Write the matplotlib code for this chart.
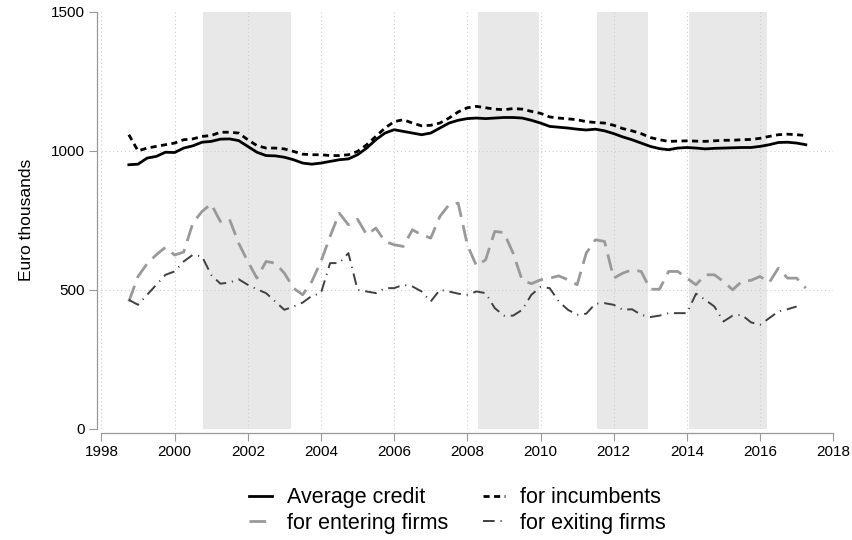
import numpy as np
import matplotlib
matplotlib.use("Agg")
import matplotlib.pyplot as plt

plt.rcParams['font.family'] = ['Liberation Sans', 'DejaVu Sans']

# quarterly, 1998q4 .. 2017q2
start_year = 1998.75

avg_credit = [950, 952, 974, 980, 995, 994, 1010, 1018, 1031, 1034, 1042, 1043, 1037, 1016, 995,
              983, 982, 977, 968, 956, 952, 956, 962, 968, 971, 986, 1010, 1040, 1064, 1076,
              1070, 1064, 1058, 1064, 1082, 1100, 1110, 1116, 1118, 1116, 1118, 1120, 1120, 1118, 1110,
              1100, 1088, 1085, 1082, 1078, 1075, 1078, 1072, 1062, 1050, 1040, 1028, 1016, 1008, 1004,
              1010, 1012, 1010, 1007, 1009, 1010, 1011, 1012, 1012, 1016, 1022, 1030, 1031, 1028, 1022]

incumbents = [1058, 1000, 1010, 1016, 1022, 1028, 1040, 1043, 1052, 1055, 1067, 1067, 1064, 1040, 1019,
              1010, 1010, 1007, 998, 988, 986, 986, 983, 983, 986, 998, 1022, 1052, 1082, 1105,
              1112, 1100, 1090, 1092, 1100, 1118, 1140, 1155, 1160, 1155, 1150, 1148, 1152, 1150, 1142,
              1135, 1122, 1118, 1115, 1112, 1105, 1102, 1100, 1092, 1080, 1072, 1062, 1048, 1040, 1034,
              1035, 1036, 1035, 1034, 1036, 1038, 1038, 1040, 1041, 1045, 1052, 1058, 1060, 1058, 1055]

entering = [458, 548, 594, 626, 653, 625, 636, 740, 782, 809, 746, 754, 668, 602, 542,
            602, 596, 560, 506, 482, 530, 602, 692, 776, 734, 754, 698, 722, 674, 662,
            656, 716, 698, 686, 764, 806, 812, 662, 586, 608, 710, 706, 632, 534, 522,
            536, 542, 550, 536, 518, 632, 680, 674, 542, 560, 572, 566, 502, 502, 566,
            566, 542, 518, 554, 554, 530, 500, 530, 534, 548, 526, 578, 542, 542, 506]

exiting = [464, 446, 482, 518, 554, 566, 602, 626, 620, 554, 522, 526, 538, 518, 502,
           488, 458, 428, 440, 454, 478, 488, 596, 596, 632, 500, 494, 488, 506, 506,
           518, 512, 494, 458, 500, 494, 486, 482, 494, 488, 434, 407, 407, 428, 482,
           510, 506, 458, 428, 410, 414, 450, 452, 446, 428, 430, 410, 402, 407, 416,
           416, 416, 486, 464, 440, 386, 407, 410, 383, 374, 398, 422, 430, 440]

shaded = [(2000.79, 2003.19), (2008.29, 2009.96), (2011.54, 2012.94), (2014.05, 2016.2)]

x_main = start_year + 0.25 * np.arange(len(avg_credit))
x_exit = start_year + 0.25 * np.arange(len(exiting))

fig = plt.figure(figsize=(8.52, 5.40), dpi=100)
ax = fig.add_axes([0.119, 0.206, 0.859, 0.772])

for a, b in shaded:
    ax.axvspan(a, b, color='#e8e8e8', lw=0, zorder=0)

for yr in range(1998, 2018, 2):
    ax.axvline(yr, color='#cccccc', lw=0.8, ls=(0, (1, 2.5)), zorder=1)
for yv in [500, 1000]:
    ax.axhline(yv, color='#cccccc', lw=0.8, ls=(0, (1, 2.5)), zorder=1)

ax.plot(x_main, avg_credit, color='black', lw=2.0, label='Average credit', zorder=3)
ax.plot(x_main, entering, color='#999999', lw=2.0, ls=(0, (6, 3)), label='for entering firms', zorder=3)
ax.plot(x_main, incumbents, color='black', lw=2.0, ls=(0, (2.2, 1.6)), label='for incumbents', zorder=3)
ax.plot(x_exit, exiting, color='#404040', lw=1.4, ls=(0, (6, 3, 0.6, 3)), label='for exiting firms', zorder=3)

ax.set_xlim(1998, 2018)
ax.set_ylim(0, 1500)
ax.set_xticks(range(1998, 2019, 2))
ax.set_yticks([0, 500, 1000, 1500])
ax.tick_params(axis='both', direction='out', length=6, width=0.8, color='#999999',
               labelsize=11, pad=3)
ax.set_ylabel('Euro thousands', fontsize=12.5, labelpad=12)

for s in ['top', 'right']:
    ax.spines[s].set_visible(False)
for s in ['left', 'bottom']:
    ax.spines[s].set_color('#999999')
    ax.spines[s].set_linewidth(0.9)
    ax.spines[s].set_position(('outward', 3))

ax.legend(loc='upper center', bbox_to_anchor=(0.487, -0.094), ncol=2, frameon=False,
          fontsize=15.5, handlelength=1.05, columnspacing=1.6, labelspacing=0.2,
          handletextpad=0.7)

fig.savefig('out.png', dpi=100)
